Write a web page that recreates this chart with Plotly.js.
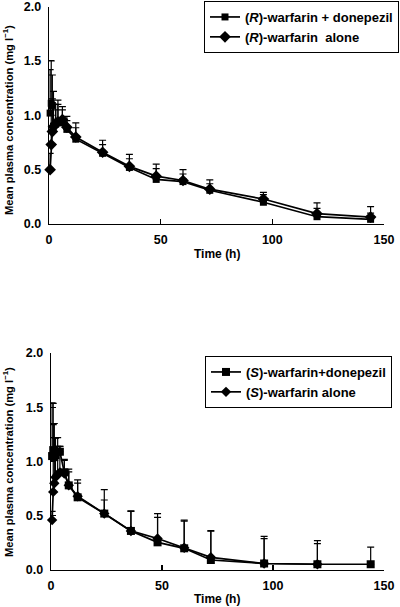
<!DOCTYPE html>
<html>
<head>
<meta charset="utf-8">
<script src="https://cdn.plot.ly/plotly-3.0.1.min.js"></script>
<style>
html,body{margin:0;padding:0;background:#fff;}
#chart{width:400px;height:607px;}
</style>
</head>
<body>
<div id="chart"></div>
<script>
// ---- Data ----
const timesR = [0.5, 1, 1.5, 2, 3, 4, 6, 8, 12, 24, 36, 48, 60, 72, 96, 120, 144];
const rDonepezil = [1.02, 1.11, 1.09, 0.90, 0.92, 0.94, 0.93, 0.87, 0.78, 0.65, 0.52, 0.41, 0.39, 0.31, 0.20, 0.067, 0.043];
const rDonepezilSD = [0.40, 0.39, 0.28, 0.20, 0.13, 0.20, 0.12, 0.08, 0.105, 0.08, 0.08, 0.10, 0.07, 0.06, 0.07, 0.077, 0.057];
const rAlone = [0.50, 0.73, 0.85, 0.895, 0.92, 0.94, 0.96, 0.89, 0.80, 0.66, 0.53, 0.44, 0.40, 0.32, 0.23, 0.095, 0.064];
const rAloneSD = [0.15, 0.27, 0.30, 0.325, 0.18, 0.16, 0.12, 0.10, 0.13, 0.11, 0.11, 0.11, 0.10, 0.085, 0.06, 0.10, 0.096];

const timesSDon = [0.5, 1, 1.5, 2, 3, 4, 6, 8, 12, 24, 36, 48, 60, 72, 96, 120, 144];
const sDonepezil = [1.05, 1.105, 1.04, 1.06, 1.09, 1.09, 0.90, 0.78, 0.67, 0.52, 0.36, 0.255, 0.20, 0.092, 0.06, 0.053, 0.053];
const sDonepezilSD = [0.49, 0.43, 0.31, 0.16, 0.13, 0.05, 0.12, 0.125, 0.13, 0.125, 0.185, 0.23, 0.25, 0.27, 0.25, 0.19, 0.157];
const timesSAlone = [0.5, 1, 1.5, 2, 3, 4, 6, 8, 12, 24, 36, 48, 60, 72, 96, 120];
const sAlone = [0.46, 0.72, 0.80, 0.855, 0.88, 0.90, 0.89, 0.78, 0.68, 0.52, 0.36, 0.29, 0.205, 0.117, 0.06, 0.053];
const sAloneSD = [0.08, 0.62, 0.42, 0.36, 0.26, 0.24, 0.12, 0.15, 0.15, 0.22, 0.18, 0.23, 0.255, 0.24, 0.23, 0.217];

const xTicks = [0, 50, 100, 150];
const yTicks = [0, 0.5, 1.0, 1.5, 2.0];
const legendNames = {
  rDon: '(<i>R</i>)-warfarin + donepezil',
  rAlone: '(<i>R</i>)-warfarin  alone',
  sDon: '(<i>S</i>)-warfarin+donepezil',
  sAlone: '(<i>S</i>)-warfarin alone'
};
const yTitle = 'Mean plasma concentration (mg l<sup>−1</sup>)';
const xTitle = 'Time (h)';

// ---- Styling ----
const FONT = 'Arial, "Liberation Sans", sans-serif';
const ink = '#000';
function errY(sd) {
  return {type: 'data', symmetric: false, array: sd, arrayminus: sd.map(() => 0),
          color: ink, thickness: 1.2, width: 3.5};
}
function trace(x, y, sd, name, symbol, size, xa, ya, leg) {
  return {
    x: x, y: y, name: name, type: 'scatter', mode: 'lines+markers',
    xaxis: xa, yaxis: ya, legend: leg, cliponaxis: false,
    line: {color: ink, width: 1.7},
    marker: {symbol: symbol, size: size, color: ink},
    error_y: errY(sd)
  };
}

const data = [
  trace(timesR, rAlone, rAloneSD, legendNames.rAlone, 'diamond', 9, 'x', 'y', 'legend'),
  trace(timesR, rDonepezil, rDonepezilSD, legendNames.rDon, 'square', 7, 'x', 'y', 'legend'),
  trace(timesSAlone, sAlone, sAloneSD, legendNames.sAlone, 'diamond', 8, 'x2', 'y2', 'legend2'),
  trace(timesSDon, sDonepezil, sDonepezilSD, legendNames.sDon, 'square', 8, 'x2', 'y2', 'legend2')
];

const H = 607, W = 400;
const tickFont = {family: FONT, size: 12.5, color: ink, weight: 'bold'};
function xAxis(d0, d1, anchor) {
  return {domain: [d0 / W, d1 / W], anchor: anchor, range: [0, 150],
    tickvals: xTicks, ticktext: xTicks.map(String), ticks: 'inside', ticklen: 5, tickwidth: 1.2,
    tickcolor: ink, showline: true, linecolor: ink, linewidth: 1.3, showgrid: false, zeroline: false,
    ticklabelstandoff: 4, ticklabeloverflow: 'allow',
    tickfont: tickFont, fixedrange: true};
}
function yAxis(top, bottom, anchor) {
  return {domain: [(H - bottom) / H, (H - top) / H], anchor: anchor, range: [0, 2],
    tickvals: yTicks, tickformat: '.1f', ticks: 'inside', ticklen: 5, tickwidth: 1.2,
    tickcolor: ink, showline: true, linecolor: ink, linewidth: 1.3, showgrid: false, zeroline: false,
    ticklabelstandoff: 4, ticklabeloverflow: 'allow',
    tickfont: tickFont, fixedrange: true};
}
const legendBase = {font: {family: FONT, size: 13, color: ink, weight: 'bold'}, bgcolor: '#fff',
  bordercolor: ink, borderwidth: 1, xanchor: 'right', yanchor: 'top',
  tracegroupgap: 0, itemwidth: 30, traceorder: 'reversed'};

const titleFont = {family: FONT, size: 12, color: ink, weight: 'bold'};
const yTitleFont = {family: FONT, size: 11.2, color: ink, weight: 'bold'};
const layout = {
  width: W, height: H, margin: {l: 0, r: 0, t: 0, b: 0},
  paper_bgcolor: '#fff', plot_bgcolor: '#fff', showlegend: true,
  font: {family: FONT, size: 12, color: ink},
  xaxis: xAxis(49, 384, 'y'),
  yaxis: yAxis(6.5, 224, 'x'),
  xaxis2: xAxis(51, 384, 'y2'),
  yaxis2: yAxis(353, 570, 'x2'),
  legend: Object.assign({}, legendBase, {x: 399 / W, y: 1 - 1 / H}),
  legend2: Object.assign({}, legendBase, {x: 392 / W, y: (H - 356) / H}),
  annotations: [
    {text: yTitle, xref: 'paper', yref: 'paper', x: 8 / W, y: (H - 120) / H, textangle: -90,
     showarrow: false, xanchor: 'center', yanchor: 'middle', font: yTitleFont},
    {text: yTitle, xref: 'paper', yref: 'paper', x: 8 / W, y: (H - 462) / H, textangle: -90,
     showarrow: false, xanchor: 'center', yanchor: 'middle', font: yTitleFont},
    {text: xTitle, xref: 'paper', yref: 'paper', x: 217 / W, y: (H - 254) / H,
     showarrow: false, xanchor: 'center', yanchor: 'middle', font: titleFont},
    {text: xTitle, xref: 'paper', yref: 'paper', x: 217 / W, y: (H - 599) / H,
     showarrow: false, xanchor: 'center', yanchor: 'middle', font: titleFont}
  ]
};

Plotly.newPlot('chart', data, layout, {staticPlot: true, displayModeBar: false});
</script>
</body>
</html>
